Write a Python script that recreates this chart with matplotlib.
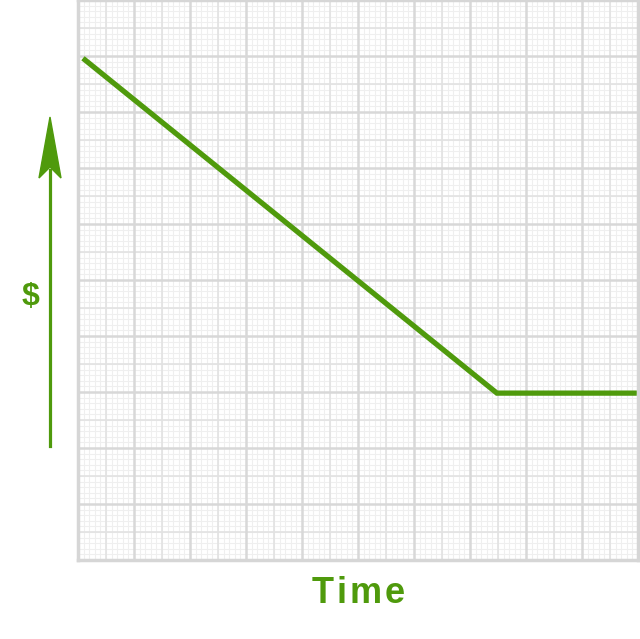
import numpy as np
import matplotlib
matplotlib.use("Agg")
import matplotlib.pyplot as plt
from matplotlib.patches import Polygon

# values (grid units, 0..10 on both axes)
time = [0.125, 7.48, 9.93]
money = [8.93, 2.98, 2.98]

green = '#4f9a0c'
W, H = 640, 639

fig = plt.figure(figsize=(W / 100, H / 100), dpi=100)
ax = fig.add_axes([78 / W, (H - 560) / H, 560 / W, 560 / H])
ax.set_xlim(0, 10)
ax.set_ylim(0, 10)

# graph paper: fine / half / full grid
for v in np.arange(0.1, 10, 0.1):
    ax.axvline(v, color='#efefef', lw=0.8, zorder=0)
    ax.axhline(v, color='#efefef', lw=0.8, zorder=0)
for v in np.arange(0.5, 10, 1.0):
    ax.axvline(v, color='#e2e2e2', lw=1.2, zorder=0)
    ax.axhline(v, color='#e2e2e2', lw=1.2, zorder=0)
for v in np.arange(1, 10, 1.0):
    ax.axvline(v, color='#d8d8d8', lw=1.8, zorder=0)
    ax.axhline(v, color='#d8d8d8', lw=1.8, zorder=0)

ax.set_xticks([])
ax.set_yticks([])
for s in ax.spines.values():
    s.set_color('#d6d6d6')
    s.set_linewidth(2.5)

ax.plot(time, money, color=green, lw=3.8, solid_joinstyle='miter', zorder=3)

# money arrow on the left
tf = fig.transFigure
ax_x = 50 / W
fig.add_artist(plt.Line2D([ax_x, ax_x], [(H - 446) / H, (H - 170) / H],
                          color=green, lw=2.3, transform=tf))
head = [(50, 117), (61, 178), (50, 167), (39, 178)]
fig.add_artist(Polygon([(x / W, (H - y) / H) for x, y in head],
                       closed=True, color=green, transform=tf))

fig.text(31 / W, (H - 297) / H, '$', color=green, fontsize=23,
         fontweight='bold', family='Liberation Sans', ha='center', va='center')

# "Time" with a little letter spacing
label = 'Time'
gap = 3
font = dict(color=green, fontsize=26, fontweight='bold', family='Liberation Sans')
r = fig.canvas.get_renderer()
widths = []
for ch in label:
    t = fig.text(0, 0, ch, **font)
    widths.append(t.get_window_extent(r).width)
    t.remove()
total = sum(widths) + gap * (len(label) - 1)
x = 358 - total / 2
for ch, w in zip(label, widths):
    fig.text(x / W, (H - 603) / H, ch, ha='left', va='baseline', **font)
    x += w + gap

fig.savefig('out.png', dpi=100)
